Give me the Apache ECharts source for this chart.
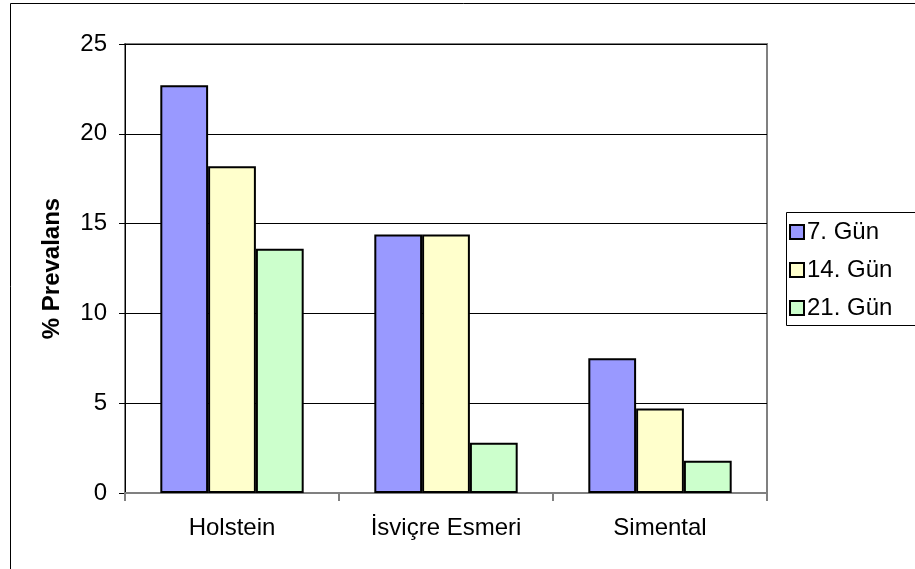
<!DOCTYPE html>
<html>
<head>
<meta charset="utf-8">
<script src="https://cdn.jsdelivr.net/npm/echarts@6/dist/echarts.min.js"></script>
<style>
  html, body { margin: 0; padding: 0; background: #fff; }
  #chart { width: 915px; height: 569px; }
</style>
</head>
<body>
<div id="chart"></div>
<script>
// Breeds on the category axis
const categories = ['Holstein', 'İsviçre Esmeri', 'Simental'];
// Prevalence (%) by sampling day
const day7 = [22.7, 14.4, 7.5];
const day14 = [18.2, 14.4, 4.7];
const day21 = [13.6, 2.8, 1.8];
const seriesNames = ['7. Gün', '14. Gün', '21. Gün'];
const seriesColors = ['#9999FF', '#FFFFCC', '#CCFFCC'];

const font = 'Liberation Sans, Arial, sans-serif';
const chart = echarts.init(document.getElementById('chart'), null, { renderer: 'canvas' });

const mkSeries = (name, data, color) => ({
  name: name,
  type: 'bar',
  data: data,
  barGap: '0%',
  barCategoryGap: '33%',
  itemStyle: { color: color, borderColor: '#000', borderWidth: 2 },
  emphasis: { disabled: true }
});

chart.setOption({
  animation: false,
  backgroundColor: '#fff',
  graphic: [
    // outer chart frame
    { type: 'rect', shape: { x: 10.5, y: 3.5, width: 1000, height: 1000 },
      style: { fill: 'none', stroke: '#000', lineWidth: 1 }, z: 0 },
    // legend box
    { type: 'rect', shape: { x: 786.5, y: 212.5, width: 200, height: 113 },
      style: { fill: '#fff', stroke: '#000', lineWidth: 1 }, z: 1 }
  ],
  grid: {
    left: 125, top: 44, width: 642, height: 449,
    show: true, borderColor: '#808080', borderWidth: 2, backgroundColor: '#fff'
  },
  legend: {
    left: 789, top: 220,
    orient: 'vertical',
    icon: 'rect',
    itemWidth: 14, itemHeight: 14,
    itemGap: 14,
    padding: 0,
    z: 5,
    textStyle: { fontFamily: font, fontSize: 24, color: '#000', padding: [0, 0, 0, -2], lineHeight: 24 },
    data: seriesNames
  },
  xAxis: {
    type: 'category',
    data: categories,
    axisLine: { lineStyle: { color: '#808080', width: 2 } },
    axisTick: { show: true, length: 8, alignWithLabel: false, lineStyle: { color: '#808080', width: 2 } },
    axisLabel: { fontFamily: font, fontSize: 24, color: '#000', margin: 23 },
    splitLine: { show: false }
  },
  yAxis: {
    type: 'value',
    min: 0, max: 25, interval: 5,
    name: '% Prevalans',
    nameLocation: 'middle',
    nameGap: 61,
    nameRotate: 90,
    nameTextStyle: { fontFamily: font, fontSize: 24, fontWeight: 'bold', color: '#000' },
    axisLine: { show: true, lineStyle: { color: '#000', width: 1 } },
    axisTick: { show: true, inside: false, length: 6, lineStyle: { color: '#000' } },
    axisLabel: { fontFamily: font, fontSize: 24, color: '#000', margin: 18 },
    splitLine: { show: true, lineStyle: { color: '#000', width: 1 } }
  },
  series: [
    mkSeries(seriesNames[0], day7, seriesColors[0]),
    mkSeries(seriesNames[1], day14, seriesColors[1]),
    mkSeries(seriesNames[2], day21, seriesColors[2])
  ]
});
</script>
</body>
</html>
